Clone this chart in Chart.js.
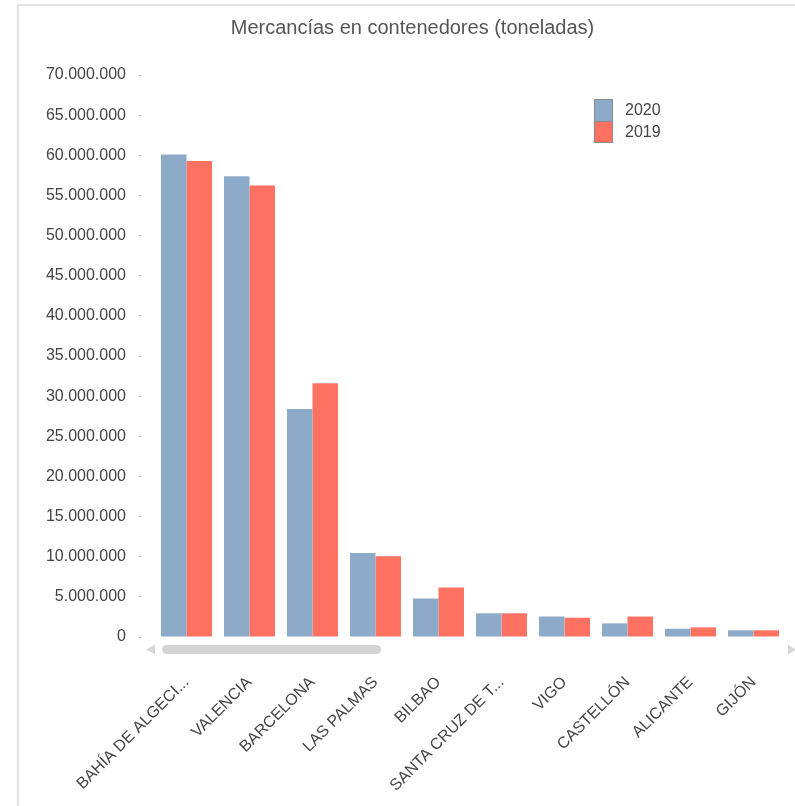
<!DOCTYPE html>
<html>
<head>
<meta charset="utf-8">
<script src="https://cdn.jsdelivr.net/npm/chart.js@4"></script>
<style>
  body { margin: 0; background: #fff; }
  #wrap { position: relative; width: 795px; height: 806px; }
  #frame { position: absolute; left: 17px; top: 4px; right: 0; bottom: 0; border-left: 2px solid #e2e2e2; border-top: 2px solid #e2e2e2; }
  canvas { position: absolute; left: 0; top: 0; }
</style>
</head>
<body>
<div id="wrap">
  <div id="frame"></div>
  <canvas id="chart" width="795" height="806"></canvas>
</div>
<script>
const categories = ['BAHÍA DE ALGECI...', 'VALENCIA', 'BARCELONA', 'LAS PALMAS', 'BILBAO', 'SANTA CRUZ DE T...', 'VIGO', 'CASTELLÓN', 'ALICANTE', 'GIJÓN'];
const values2020 = [60100000, 57400000, 28400000, 10450000, 4800000, 2950000, 2550000, 1700000, 1030000, 830000];
const values2019 = [59300000, 56250000, 31600000, 10050000, 6150000, 2950000, 2400000, 2550000, 1200000, 830000];

const blue = '#8eaac9';
const red = '#ff7262';
const fontFamily = '"Liberation Sans", Arial, sans-serif';

const fmt = v => String(v).replace(/\B(?=(\d{3})+(?!\d))/g, '.');

// scrollbar + legend drawn over the chart like in the original widget
const extras = {
    id: 'extras',
    afterDraw(chart) {
        const ctx = chart.ctx;
        ctx.save();
        // scrollbar
        ctx.fillStyle = '#d3d3d3';
        ctx.beginPath();
        ctx.roundRect(162, 645, 219, 9, 4.5);
        ctx.fill();
        ctx.fillStyle = '#d8d8d8';
        ctx.beginPath();
        ctx.moveTo(146, 649.5); ctx.lineTo(155, 644.5); ctx.lineTo(155, 654.5); ctx.closePath();
        ctx.fill();
        ctx.beginPath();
        ctx.moveTo(796, 649.5); ctx.lineTo(788, 644.5); ctx.lineTo(788, 654.5); ctx.closePath();
        ctx.fill();
        // legend
        const x = 594, y0 = 99, w = 19, h = 22;
        chart.data.datasets.forEach((ds, i) => {
            const y = y0 + i * h;
            ctx.fillStyle = ds.backgroundColor;
            ctx.fillRect(x, y, w, h);
            ctx.fillStyle = '#444';
            ctx.font = '16px ' + fontFamily;
            ctx.textBaseline = 'middle';
            ctx.fillText(ds.label, x + 31, y + h / 2 + 1);
        });
        ctx.strokeStyle = '#8a8a8a';
        ctx.lineWidth = 1;
        ctx.strokeRect(x + 0.5, y0 + 0.5, w - 1, h * 2 - 1);
        ctx.beginPath();
        ctx.moveTo(x, y0 + h + 0.5); ctx.lineTo(x + w, y0 + h + 0.5);
        ctx.stroke();
        ctx.restore();
    }
};

new Chart(document.getElementById('chart'), {
    type: 'bar',
    data: {
        labels: categories,
        datasets: [
            { label: '2020', data: values2020, backgroundColor: blue },
            { label: '2019', data: values2019, backgroundColor: red }
        ]
    },
    options: {
        responsive: false,
        animation: false,
        layout: { padding: { top: 0, right: 10, bottom: 0, left: 40 } },
        datasets: { bar: { categoryPercentage: 0.81, barPercentage: 1.0 } },
        plugins: {
            legend: { display: false },
            tooltip: { enabled: false },
            title: {
                display: true,
                text: 'Mercancías en contenedores (toneladas)',
                color: '#555',
                font: { family: fontFamily, size: 20, weight: 'normal' },
                padding: { top: 16, bottom: 35 }
            }
        },
        scales: {
            x: {
                afterFit: s => { s.height = 169; s.paddingLeft = 0; s.paddingRight = 0; },
                grid: { display: false, drawTicks: false },
                border: { display: false },
                ticks: {
                    color: '#444',
                    font: { family: fontFamily, size: 16 },
                    minRotation: 45,
                    maxRotation: 45,
                    autoSkip: false,
                    padding: 36
                }
            },
            y: {
                min: 0,
                max: 70000000,
                afterFit: s => { s.width = 115; },
                grid: {
                    drawOnChartArea: false,
                    tickLength: 16,
                    tickColor: '#b5b5b5',
                    tickBorderDash: [2, 40]
                },
                border: { display: false },
                ticks: {
                    stepSize: 5000000,
                    color: '#444',
                    padding: 13,
                    font: { family: fontFamily, size: 16 },
                    callback: v => fmt(v)
                }
            }
        }
    },
    plugins: [extras]
});
</script>
</body>
</html>
